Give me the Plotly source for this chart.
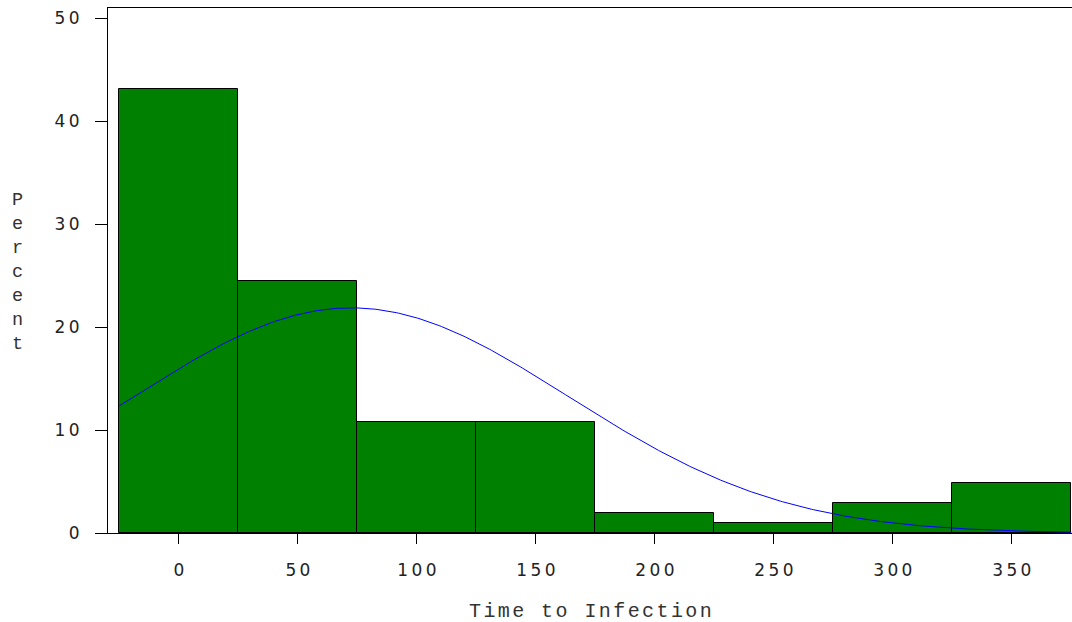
import numpy as np
import plotly.graph_objects as go

# Histogram of time to infection (percent of patients per 50-day bin)
bin_midpoints = [0, 50, 100, 150, 200, 250, 300, 350]
percent = [43.1, 24.5, 10.8, 10.8, 1.96, 0.98, 2.94, 4.9]
bin_width = 50

# Fitted normal density parameters
normal_mean = 72.4
normal_std = 91.2

x_ticks = [0, 50, 100, 150, 200, 250, 300, 350]
y_ticks = [0, 10, 20, 30, 40, 50]

x_range = [-29.8, 375.3]
y_range = [0, 51.0]

THIN = "\u2009"


def spaced_digits(v):
    return THIN.join(str(v))


def spaced_title(s, gap_size=12):
    gap = f'<span style="font-family:DejaVu Sans;font-size:{gap_size}px">{THIN}</span>'
    return gap.join(s)


# Normal curve scaled to percent per bin
curve_x = np.linspace(bin_midpoints[0] - bin_width / 2, bin_midpoints[-1] + bin_width / 2, 400)
curve_y = 100 * bin_width * np.exp(-0.5 * ((curve_x - normal_mean) / normal_std) ** 2) / (
    normal_std * np.sqrt(2 * np.pi)
)

fig = go.Figure()
fig.add_trace(
    go.Bar(
        x=bin_midpoints,
        y=percent,
        width=bin_width,
        marker=dict(color="#008000", line=dict(color="black", width=1)),
        hoverinfo="x+y",
    )
)
fig.add_trace(
    go.Scatter(
        x=curve_x,
        y=curve_y,
        mode="lines",
        line=dict(color="#0000FF", width=1),
        hoverinfo="skip",
    )
)

tick_font = dict(family="DejaVu Sans", size=17, color="#222222")

fig.update_layout(
    width=1072,
    height=622,
    margin=dict(l=108, r=0, t=8, b=89),
    paper_bgcolor="white",
    plot_bgcolor="white",
    showlegend=False,
    bargap=0,
    xaxis=dict(
        range=x_range,
        tickmode="array",
        tickvals=x_ticks,
        ticktext=[spaced_digits(v) for v in x_ticks],
        ticks="outside",
        ticklen=10,
        tickwidth=1,
        tickcolor="black",
        showline=True,
        linecolor="black",
        linewidth=1,
        mirror=True,
        showgrid=False,
        zeroline=False,
        tickfont=tick_font,
        ticklabelstandoff=12,
    ),
    yaxis=dict(
        range=y_range,
        tickmode="array",
        tickvals=y_ticks,
        ticktext=[spaced_digits(v) for v in y_ticks],
        ticks="outside",
        ticklen=12,
        tickwidth=1,
        tickcolor="black",
        showline=True,
        linecolor="black",
        linewidth=1,
        showgrid=False,
        zeroline=False,
        tickfont=tick_font,
        ticklabelstandoff=12,
    ),
)

# Axis titles
fig.add_annotation(
    text=spaced_title("Time to Infection"),
    xref="paper",
    yref="paper",
    x=0.5,
    y=(533 - 611) / 525,
    xanchor="center",
    yanchor="middle",
    showarrow=False,
    font=dict(family="Liberation Mono", size=20, color="#333333"),
)
fig.add_annotation(
    text="<br>".join("Percent"),
    xref="paper",
    yref="paper",
    x=(17 - 108) / 964,
    y=(533 - 272) / 525,
    xanchor="center",
    yanchor="middle",
    showarrow=False,
    align="center",
    font=dict(family="Liberation Mono", size=18.5, color="#333333"),
)

fig.write_html("out.html")
